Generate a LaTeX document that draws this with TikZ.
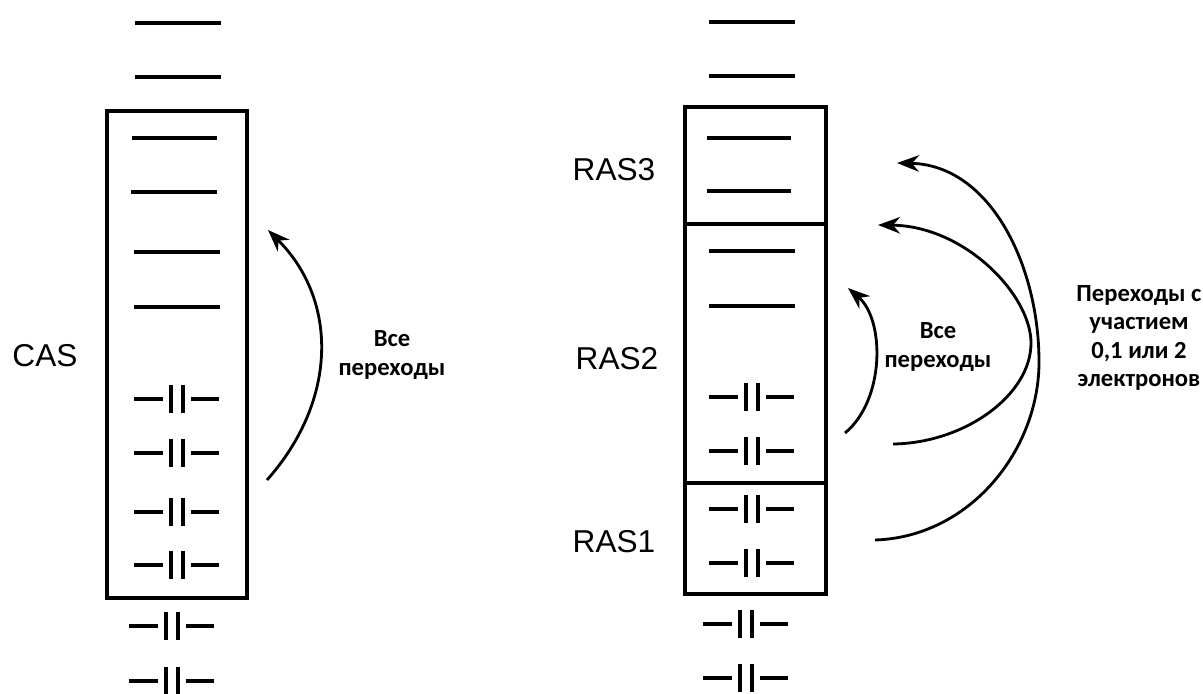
\documentclass[tikz,border=0pt]{standalone}
\usepackage{fontspec}
\setmainfont{Liberation Sans}
\newfontfamily\calfont{Carlito}
\usetikzlibrary{arrows.meta}
\tikzset{
  lvl/.style={line width=2pt},
  barline/.style={line width=2.1pt},
  boxline/.style={line width=1.8pt},
  arr/.style={line width=1.6pt,-{Stealth[length=0.44cm,width=0.33cm,inset=0.14cm]}},
  lbl/.style={font=\fontsize{18}{20}\selectfont,inner sep=0pt},
  note/.style={font=\calfont\bfseries\fontsize{14}{17}\selectfont,align=center,inner sep=0pt},
  pairlvl/.pic={
    \draw[lvl] (-43,0) -- (-14,0);
    \draw[lvl] (14,0) -- (42,0);
    \draw[barline] (-6,-14) -- (-6,14);
    \draw[barline] (6,-14) -- (6,14);
  }
}
\begin{document}
\begin{tikzpicture}[x=0.02cm,y=-0.02cm]
\useasboundingbox (0,0) rectangle (1203,693);
% ---------- left column (CAS) ----------
\draw[lvl] (135,23) -- (221,23);
\draw[lvl] (135,77) -- (221,77);
\draw[boxline] (107,111) rectangle (247,598);
\draw[lvl] (132,138) -- (217,138);
\draw[lvl] (131,192) -- (217,192);
\draw[lvl] (134,252) -- (220,252);
\draw[lvl] (134,307) -- (220,307);
\foreach \yy in {399,453,512,565} { \pic at (177,\yy) {pairlvl}; }
\foreach \yy in {626,681} { \pic at (172,\yy) {pairlvl}; }
\node[lbl] (cas) at (45,356) {CAS};
\coordinate (a1s) at (267,480);
\coordinate (a1e) at (268,230);
\draw[arr] (a1s) .. controls (338,400) and (338,300) .. (a1e);
\node[note] (allL) at (392,355) {Все\\переходы};
% ---------- right column (RAS) ----------
\draw[lvl] (709,22) -- (795,22);
\draw[lvl] (709,76) -- (795,76);
\draw[boxline] (685,107) rectangle (826,594);
\draw[boxline] (685,224) -- (826,224);
\draw[boxline] (685,483) -- (826,483);
\draw[lvl] (707,138) -- (791,138);
\draw[lvl] (707,191) -- (791,191);
\draw[lvl] (709,251) -- (795,251);
\draw[lvl] (709,306) -- (795,306);
\foreach \yy in {397,451,509,563} { \pic at (752,\yy) {pairlvl}; }
\foreach \yy in {624,678} { \pic at (746,\yy) {pairlvl}; }
\node[lbl] (ras3) at (614,170) {RAS3};
\node[lbl] (ras2) at (617,359) {RAS2};
\node[lbl] (ras1) at (614,542) {RAS1};
% arrows
\coordinate (b1s) at (845,433);
\coordinate (b1e) at (848,288);
\draw[arr] (b1s) .. controls (885,400) and (885,320) .. (b1e);
\coordinate (b2s) at (893,444);
\coordinate (b2m) at (1031,343);
\coordinate (b2e) at (878,225);
\draw[arr] (b2s) .. controls (965,443) and (1031,395) .. (b2m)
                 .. controls (1031,295) and (965,226) .. (b2e);
\coordinate (b3s) at (875,540);
\coordinate (b3m) at (1039,362);
\coordinate (b3e) at (897,163);
\draw[arr] (b3s) .. controls (970,537) and (1039,450) .. (b3m)
                 .. controls (1039,265) and (990,165) .. (b3e);
\node[note] (allR) at (938,347) {Все\\переходы};
\node[note,font=\calfont\bfseries\fontsize{14}{16}\selectfont] (trans) at (1139,338) {Переходы с\\участием\\0,1 или 2\\электронов};
\end{tikzpicture}
\end{document}
